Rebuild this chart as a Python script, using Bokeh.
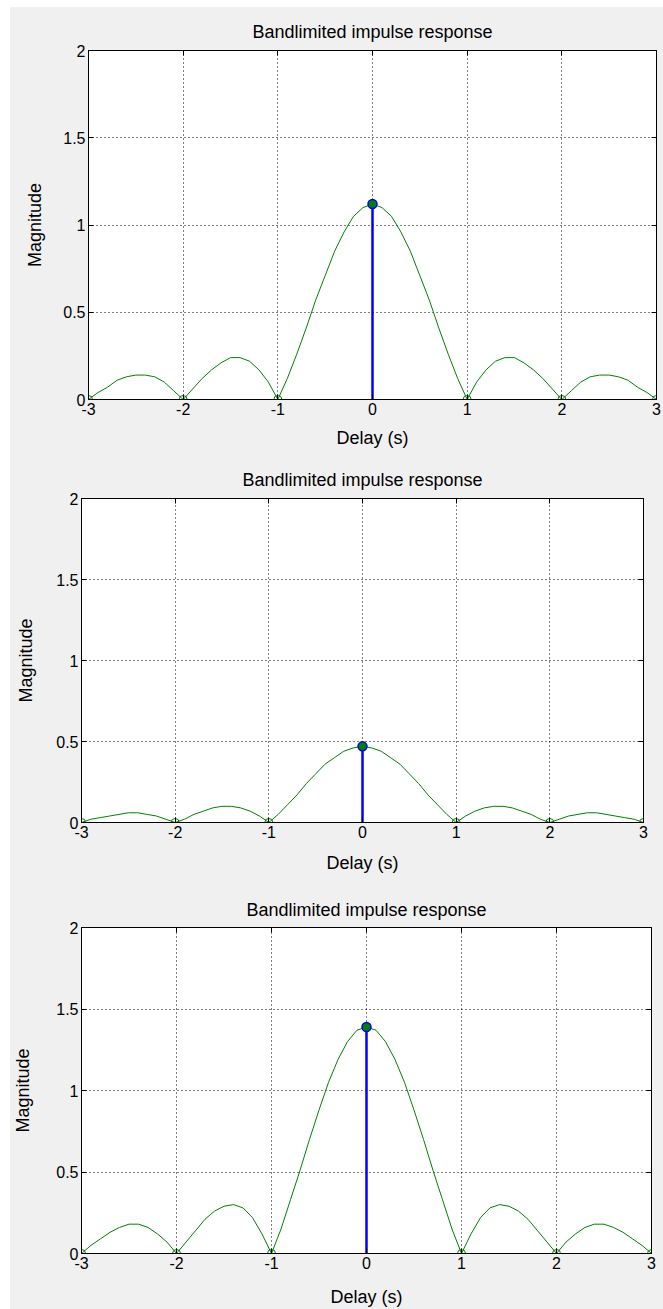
from bokeh.plotting import figure
from bokeh.models import Range1d, FixedTicker, LinearAxis, CustomJSTickFormatter, ColumnDataSource
from bokeh.layouts import column, row
from bokeh.embed import file_html
from bokeh.resources import INLINE

# ---- data ----
delay = [round(-3 + 0.1 * i, 1) for i in range(61)]

mag1 = [0, 0.04, 0.07, 0.11, 0.13, 0.14, 0.14, 0.13, 0.10, 0.05,
        0, 0.06, 0.12, 0.17, 0.21, 0.24, 0.24, 0.22, 0.17, 0.10,
        0, 0.12, 0.26, 0.41, 0.57, 0.71, 0.85, 0.96, 1.05, 1.10,
        1.12,
        1.10, 1.05, 0.96, 0.85, 0.71, 0.57, 0.41, 0.26, 0.12, 0,
        0.10, 0.17, 0.22, 0.24, 0.24, 0.21, 0.17, 0.12, 0.06, 0,
        0.05, 0.10, 0.13, 0.14, 0.14, 0.13, 0.11, 0.07, 0.04, 0]

mag2 = [0, 0.02, 0.03, 0.04, 0.05, 0.06, 0.06, 0.05, 0.04, 0.02,
        0, 0.02, 0.05, 0.07, 0.09, 0.10, 0.10, 0.09, 0.07, 0.04,
        0, 0.05, 0.11, 0.17, 0.24, 0.30, 0.36, 0.40, 0.44, 0.46,
        0.47,
        0.46, 0.44, 0.40, 0.36, 0.30, 0.24, 0.17, 0.11, 0.05, 0,
        0.04, 0.07, 0.09, 0.10, 0.10, 0.09, 0.07, 0.05, 0.02, 0,
        0.02, 0.04, 0.05, 0.06, 0.06, 0.05, 0.04, 0.03, 0.02, 0]

mag3 = [0, 0.05, 0.09, 0.13, 0.16, 0.18, 0.18, 0.16, 0.12, 0.07,
        0, 0.07, 0.14, 0.21, 0.26, 0.29, 0.30, 0.28, 0.22, 0.12,
        0, 0.15, 0.33, 0.51, 0.70, 0.88, 1.05, 1.19, 1.30, 1.37,
        1.39,
        1.37, 1.30, 1.19, 1.05, 0.88, 0.70, 0.51, 0.33, 0.15, 0,
        0.12, 0.22, 0.28, 0.30, 0.29, 0.26, 0.21, 0.14, 0.07, 0,
        0.07, 0.12, 0.16, 0.18, 0.18, 0.16, 0.13, 0.09, 0.05, 0]

sample_t = [-3, -2, -1, 1, 2, 3]
sample_v = [0, 0, 0, 0, 0, 0]
peak_t = [0]
peaks = [1.12, 0.47, 1.39]

x_ticks = [-3, -2, -1, 0, 1, 2, 3]
y_ticks = [0, 0.5, 1, 1.5, 2]
y_tick_labels = ["0", "0.5", "1", "1.5", "2"]
x_tick_labels = ["-3", "-2", "-1", "0", "1", "2", "3"]

title_text = "Bandlimited impulse response"
x_label = "Delay (s)"
y_label = "Magnitude"

FONT = "Liberation Sans"
GREEN = "#008000"
BLUE = "#0000ff"
BG = "#f0f0f0"

layouts = [
    # height, left, right, top, bottom, ylabel/xlabel standoff, title standoff
    dict(h=448, l=78, r=7, t=43, b=56, ys=15, xs=10, ts=18),
    dict(h=435, l=71, r=20, t=43, b=68, ys=17, xs=12, ts=17),
    dict(h=419, l=67, r=12, t=37, b=55, ys=20, xs=15, ts=15),
]


def make(mag, peak, lay):
    p = figure(width=653, height=lay["h"],
               x_range=Range1d(-3, 3), y_range=Range1d(0, 2),
               min_border_left=lay["l"], min_border_right=lay["r"],
               min_border_top=lay["t"], min_border_bottom=lay["b"],
               background_fill_color="white", border_fill_color=BG,
               outline_line_color="black", outline_line_width=1,
               toolbar_location=None, output_backend="svg",
               title=title_text)
    p.title.align = "center"
    p.title.text_font = FONT
    p.title.text_font_size = "18px"
    p.title.text_font_style = "normal"
    p.title.text_color = "black"
    p.title.standoff = lay["ts"]

    for ax in p.xaxis:
        ax.ticker = FixedTicker(ticks=x_ticks)
        ax.major_label_overrides = dict(zip(x_ticks, x_tick_labels))
        ax.axis_label = x_label
        ax.axis_label_standoff = lay["xs"]
    for ax in p.yaxis:
        ax.ticker = FixedTicker(ticks=y_ticks)
        ax.major_label_overrides = dict(zip(y_ticks, y_tick_labels))
        ax.axis_label = y_label
        ax.axis_label_standoff = lay["ys"]
    for ax in p.axis:
        ax.major_tick_in = 5
        ax.major_tick_out = 0
        ax.minor_tick_line_color = None
        ax.axis_line_color = "black"
        ax.major_tick_line_color = "black"
        ax.major_label_text_font = FONT
        ax.major_label_text_font_size = "16px"
        ax.major_label_text_color = "black"
        ax.major_label_standoff = 3
        ax.axis_label_text_font = FONT
        ax.axis_label_text_font_size = "18px"
        ax.axis_label_text_font_style = "normal"
        ax.axis_label_text_color = "black"

    # mirrored tick marks on top / right (no labels)
    for loc, ticks in (("above", x_ticks), ("right", y_ticks)):
        mirror = LinearAxis(ticker=FixedTicker(ticks=ticks),
                            formatter=CustomJSTickFormatter(code="return ''"),
                            major_tick_in=5, major_tick_out=0, minor_tick_line_color=None,
                            axis_line_color="black", major_label_standoff=0,
                            major_label_text_font_size="0px", axis_label_standoff=0)
        p.add_layout(mirror, loc)

    p.grid.grid_line_color = "black"
    p.grid.grid_line_dash = "1 3"
    p.grid.grid_line_width = 1
    p.xgrid.ticker = FixedTicker(ticks=x_ticks)
    p.ygrid.ticker = FixedTicker(ticks=y_ticks)

    src = ColumnDataSource(dict(t=delay, v=mag))
    p.line("t", "v", source=src, line_color=GREEN, line_width=1)
    p.scatter(sample_t, sample_v, marker="circle", size=8,
              fill_color=None, line_color=GREEN, line_width=1)
    p.segment(x0=peak_t, y0=[0], x1=peak_t, y1=[peak], line_color=BLUE, line_width=2.5)
    p.scatter(peak_t, [peak], marker="circle", size=9,
              fill_color=GREEN, line_color=BLUE, line_width=1.5)
    return p


figs = [make(m, pk, lay) for m, pk, lay in zip([mag1, mag2, mag3], peaks, layouts)]
page = column(*[row(f, spacing=0) for f in figs], spacing=0, margin=(7, 0, 0, 10),
              styles={"background-color": BG})
open("out.html", "w").write(file_html(page, INLINE))
